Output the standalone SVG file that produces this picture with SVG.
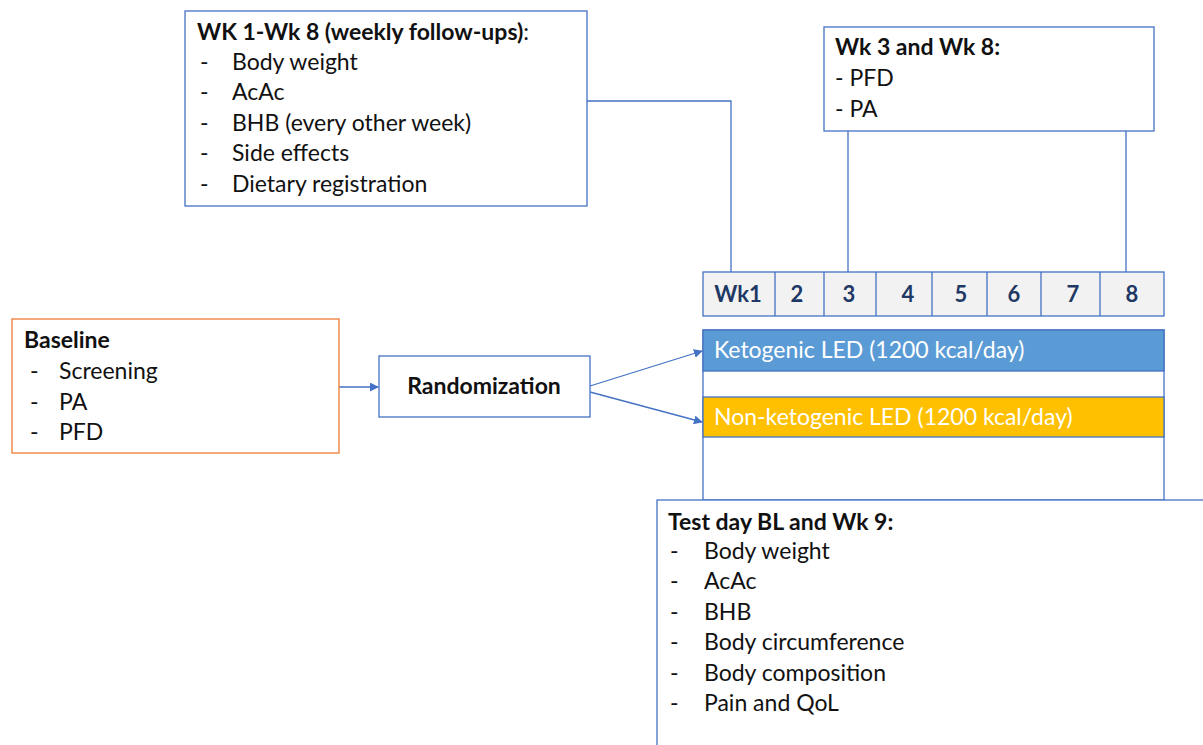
<svg xmlns="http://www.w3.org/2000/svg" width="1203" height="745" viewBox="0 0 1203 745">
<defs>
<style>
text{font-family:Lato,"Liberation Sans",sans-serif;font-size:23px;fill:#111}
.b{font-weight:bold}
.box{fill:#fff;stroke:#4472c4;stroke-width:1.3}
.cell{fill:#f2f2f2;stroke:#4472c4;stroke-width:1.3}
.wk{font-weight:bold;fill:#203864;text-anchor:middle;font-size:22px}
.ln{fill:none;stroke:#4472c4;stroke-width:1.3}
.w{fill:#fff}
</style>
<marker id="ah" viewBox="0 0 10 10" refX="9" refY="5" markerWidth="9" markerHeight="9" markerUnits="userSpaceOnUse" orient="auto"><path d="M0,0 L10,5 L0,10 z" fill="#4472c4"/></marker>
</defs>
<rect width="1203" height="745" fill="#fff"/>
<g id="connectors">
<polyline class="ln" points="587,101 731,101 731,272"/>
<line class="ln" x1="848" y1="131" x2="848" y2="272"/>
<line class="ln" x1="1126" y1="131" x2="1126" y2="272"/>
<line class="ln" x1="339" y1="387" x2="378" y2="387" marker-end="url(#ah)"/>
<line class="ln" x1="590" y1="386" x2="702" y2="351" marker-end="url(#ah)"/>
<line class="ln" x1="590" y1="392" x2="702" y2="422" marker-end="url(#ah)"/>
</g>
<g id="weekly">
<rect class="box" x="185" y="11" width="402" height="195"/>
<text x="197" y="40"><tspan class="b">WK 1-Wk 8 (weekly follow-ups)</tspan>:</text>
<text x="200" y="70">-</text><text x="232" y="70">Body weight</text>
<text x="200" y="100">-</text><text x="232" y="100">AcAc</text>
<text x="200" y="131">-</text><text x="232" y="131">BHB (every other week)</text>
<text x="200" y="161">-</text><text x="232" y="161">Side effects</text>
<text x="200" y="192">-</text><text x="232" y="192">Dietary registration</text>
</g>
<g id="wk38">
<rect class="box" x="824" y="27" width="330" height="104"/>
<text class="b" x="835" y="55">Wk 3 and Wk 8:</text>
<text x="835" y="86">- PFD</text>
<text x="835" y="117">- PA</text>
</g>
<g id="timeline">
<rect class="cell" x="703" y="272" width="461" height="44"/>
<path class="ln" d="M775,272V316M824,272V316M876,272V316M932,272V316M987,272V316M1041,272V316M1100,272V316"/>
<text class="wk" x="738" y="302">Wk1</text>
<text class="wk" x="797" y="302">2</text>
<text class="wk" x="849" y="302">3</text>
<text class="wk" x="908" y="302">4</text>
<text class="wk" x="961" y="302">5</text>
<text class="wk" x="1014" y="302">6</text>
<text class="wk" x="1073" y="302">7</text>
<text class="wk" x="1132" y="302">8</text>
</g>
<g id="arms">
<rect class="ln" x="703" y="330" width="461" height="170"/>
<rect x="703" y="330" width="461" height="41" fill="#5b9bd5" stroke="#4472c4" stroke-width="1.3"/>
<text class="w" x="714" y="358">Ketogenic LED (1200 kcal/day)</text>
<rect x="703" y="397" width="461" height="40" fill="#ffc000" stroke="#4472c4" stroke-width="1.3"/>
<text class="w" x="714" y="425">Non-ketogenic LED (1200 kcal/day)</text>
</g>
<g id="baseline">
<rect x="12" y="319" width="327" height="134" fill="#fff" stroke="#ed7d31" stroke-width="1.3"/>
<text class="b" x="24" y="348">Baseline</text>
<text x="30" y="379">-</text><text x="59" y="379">Screening</text>
<text x="30" y="410">-</text><text x="59" y="410">PA</text>
<text x="30" y="440">-</text><text x="59" y="440">PFD</text>
</g>
<g id="randomization">
<rect class="box" x="379" y="356" width="211" height="61"/>
<text class="b" x="484" y="394" text-anchor="middle">Randomization</text>
</g>
<g id="testday">
<rect class="box" x="657" y="500" width="560" height="260"/>
<text class="b" x="668" y="530">Test day BL and Wk 9:</text>
<text x="670" y="559">-</text><text x="704" y="559">Body weight</text>
<text x="670" y="589">-</text><text x="704" y="589">AcAc</text>
<text x="670" y="620">-</text><text x="704" y="620">BHB</text>
<text x="670" y="650">-</text><text x="704" y="650">Body circumference</text>
<text x="670" y="681">-</text><text x="704" y="681">Body composition</text>
<text x="670" y="711">-</text><text x="704" y="711">Pain and QoL</text>
</g>
</svg>
